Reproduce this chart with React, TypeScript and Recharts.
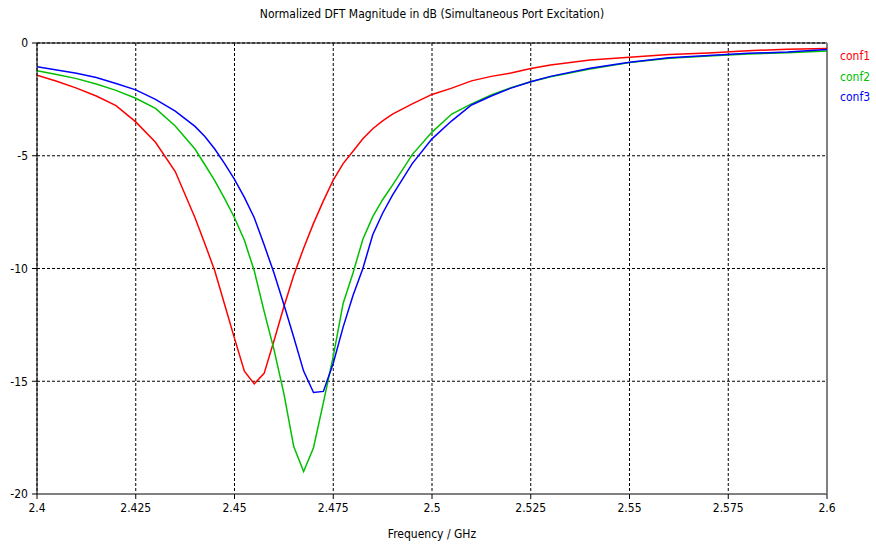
import React from "react";
import { LineChart, Line, XAxis, YAxis, CartesianGrid, ReferenceLine } from "recharts";

const frequency = [
  2.4, 2.405, 2.41, 2.415, 2.42, 2.425, 2.43, 2.435, 2.44, 2.4425, 2.445, 2.4475, 2.45, 2.4525,
  2.455, 2.4575, 2.46, 2.4625, 2.465, 2.4675, 2.47, 2.4725, 2.475, 2.4775, 2.48, 2.4825, 2.485,
  2.4875, 2.49, 2.495, 2.5, 2.505, 2.51, 2.515, 2.52, 2.525, 2.53, 2.54, 2.55, 2.56, 2.57, 2.58,
  2.59, 2.6,
];

const conf1 = [
  -1.43, -1.7, -2.0, -2.35, -2.78, -3.5, -4.4, -5.7, -7.75, -8.9, -10.1, -11.6, -13.1, -14.55,
  -15.12, -14.65, -13.2, -11.7, -10.3, -9.1, -8.0, -7.0, -6.08, -5.35, -4.8, -4.25, -3.8,
  -3.45, -3.15, -2.7, -2.28, -2.0, -1.68, -1.48, -1.33, -1.13, -0.98, -0.75, -0.63, -0.51, -0.44, -0.34,
  -0.28, -0.24,
];

const conf2 = [
  -1.23, -1.4, -1.58, -1.82, -2.1, -2.45, -2.9, -3.68, -4.7, -5.4, -6.1, -6.9, -7.75, -8.75,
  -10.1, -11.9, -13.6, -15.55, -17.9, -19.0, -17.95, -15.95, -13.9, -11.55, -10.2, -8.7, -7.7,
  -6.95, -6.3, -4.95, -3.95, -3.15, -2.7, -2.3, -1.98, -1.72, -1.5, -1.15, -0.87, -0.68, -0.58, -0.49,
  -0.43, -0.35,
];

const conf3 = [
  -1.05, -1.2, -1.34, -1.53, -1.8, -2.08, -2.5, -3.02, -3.7, -4.15, -4.7, -5.35, -6.05, -6.85,
  -7.75, -8.95, -10.2, -11.6, -13.05, -14.55, -15.5, -15.45, -14.2, -12.6, -11.2, -10.0, -8.5,
  -7.55, -6.75, -5.35, -4.25, -3.45, -2.75, -2.35, -2.0, -1.72, -1.48, -1.12, -0.85, -0.65, -0.55, -0.46,
  -0.4, -0.29,
];

const xTicks = [2.4, 2.425, 2.45, 2.475, 2.5, 2.525, 2.55, 2.575, 2.6];
const xTickLabels = ["2.4", "2.425", "2.45", "2.475", "2.5", "2.525", "2.55", "2.575", "2.6"];
const yTicks = [-20, -15, -10, -5, 0];
const yTickLabels = ["-20", "-15", "-10", "-5", "0"];

const seriesNames = ["conf1", "conf2", "conf3"];
const seriesColors = ["#ff0000", "#00c000", "#0000ff"];

const data = frequency.map((f, i) => ({ f, conf1: conf1[i], conf2: conf2[i], conf3: conf3[i] }));

const FONT = "'DejaVu Sans Condensed', 'DejaVu Sans', sans-serif";

export default function App() {
  return (
    <div style={{ position: "absolute", left: 0, top: 0, width: 876, height: 547, background: "#fff" }}>
      <div
        style={{
          position: "absolute",
          left: 37,
          width: 790,
          top: 7,
          textAlign: "center",
          fontFamily: FONT,
          fontSize: 12,
          color: "#000",
        }}
      >
        Normalized DFT Magnitude in dB (Simultaneous Port Excitation)
      </div>
      <div style={{ position: "absolute", left: 840, top: 46, fontFamily: FONT, fontSize: 12 }}>
        {seriesNames.map((n, i) => (
          <div key={n} style={{ color: seriesColors[i], height: 20.5, lineHeight: "20px" }}>
            {n}
          </div>
        ))}
      </div>
      <LineChart
        width={876}
        height={547}
        data={data}
        margin={{ top: 43, right: 49, bottom: 0, left: 0 }}
      >
        <CartesianGrid stroke="#000" strokeDasharray="3 2" />
        <XAxis
          dataKey="f"
          type="number"
          domain={[2.4, 2.6]}
          ticks={xTicks}
          tickFormatter={(v: number) => xTickLabels[xTicks.indexOf(v)] ?? String(v)}
          height={53}
          axisLine={{ stroke: "#808080", strokeWidth: 2 }}
          tickLine={{ stroke: "#000" }}
          tickSize={5}
          tick={{ fill: "#000", fontSize: 12, fontFamily: FONT }}
          tickMargin={4}
          label={{ value: "Frequency / GHz", position: "insideBottom", offset: 9, fill: "#000", fontSize: 12, fontFamily: FONT }}
          allowDataOverflow
        />
        <YAxis
          type="number"
          domain={[-20, 0]}
          ticks={yTicks}
          tickFormatter={(v: number) => yTickLabels[yTicks.indexOf(v)] ?? String(v)}
          width={37}
          axisLine={{ stroke: "#000", strokeWidth: 1 }}
          tickLine={{ stroke: "#000" }}
          tickSize={5}
          tickMargin={4}
          tick={{ fill: "#000", fontSize: 12, fontFamily: FONT }}
          allowDataOverflow
        />
        <ReferenceLine y={0} stroke="#000" strokeWidth={1} />
        <ReferenceLine x={2.6} stroke="#808080" strokeWidth={2} />
        {seriesNames.map((n, i) => (
          <Line
            key={n}
            dataKey={n}
            stroke={seriesColors[i]}
            strokeWidth={1.5}
            dot={false}
            isAnimationActive={false}
            type="linear"
          />
        ))}
      </LineChart>
    </div>
  );
}
